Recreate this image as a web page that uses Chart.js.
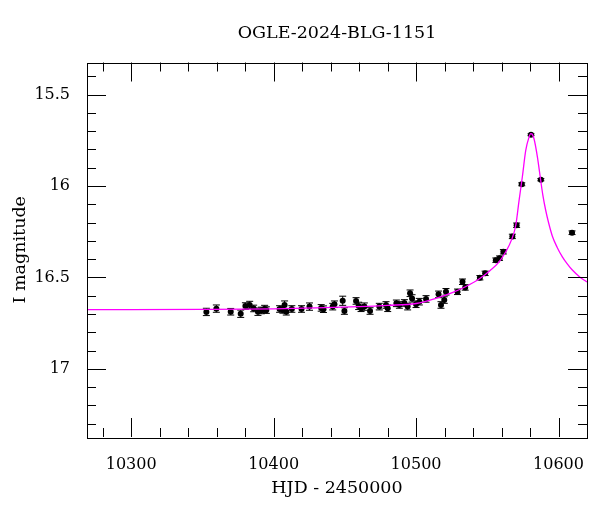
<!DOCTYPE html>
<html>
<head>
<meta charset="utf-8">
<script src="https://cdn.jsdelivr.net/npm/chart.js@4"></script>
<style>
  body { margin: 0; background: #fff; }
  canvas { display: block; }
</style>
</head>
<body>
<canvas id="lightCurve" width="600" height="512"></canvas>
<script>
// observations (HJD - 2450000, I mag, error)
const hjd = [
  10352.8, 10359.8, 10369.9, 10376.9, 10380.2, 10383.2, 10386.0, 10389.0, 10391.4, 10393.7,
  10394.9, 10404.2, 10406.5, 10407.7, 10408.9, 10412.8, 10419.6, 10425.2, 10433.4, 10435.0,
  10441.5, 10442.7, 10448.5, 10449.7, 10457.9, 10459.7, 10461.4, 10463.7, 10467.7, 10474.2,
  10478.9, 10480.1, 10486.2, 10488.3, 10491.8, 10494.1, 10495.8, 10497.2, 10500.0, 10502.3,
  10507.0, 10515.8, 10517.5, 10519.8, 10521.0, 10529.1, 10532.6, 10534.5, 10544.8, 10548.5,
  10556.0, 10558.6, 10561.3, 10567.6, 10570.6, 10574.2, 10580.7, 10587.6, 10609.5
];
const mag = [
  16.689, 16.671, 16.688, 16.699, 16.657, 16.651, 16.670, 16.688, 16.681, 16.673,
  16.679, 16.673, 16.678, 16.651, 16.688, 16.673, 16.673, 16.660, 16.667, 16.674,
  16.660, 16.647, 16.628, 16.684, 16.629, 16.656, 16.669, 16.660, 16.684, 16.660,
  16.651, 16.669, 16.642, 16.651, 16.640, 16.660, 16.587, 16.615, 16.647, 16.633,
  16.618, 16.593, 16.651, 16.624, 16.579, 16.579, 16.524, 16.555, 16.502, 16.478,
  16.406, 16.395, 16.360, 16.276, 16.215, 15.991, 15.720, 15.966, 16.256
];
const magErr = [
  0.020, 0.020, 0.018, 0.020, 0.018, 0.020, 0.018, 0.020, 0.018, 0.020,
  0.018, 0.018, 0.018, 0.022, 0.018, 0.018, 0.018, 0.020, 0.018, 0.018,
  0.018, 0.018, 0.025, 0.018, 0.018, 0.020, 0.018, 0.020, 0.018, 0.018,
  0.018, 0.018, 0.018, 0.018, 0.018, 0.018, 0.018, 0.020, 0.018, 0.018,
  0.018, 0.018, 0.018, 0.018, 0.018, 0.015, 0.015, 0.015, 0.012, 0.012,
  0.012, 0.012, 0.012, 0.012, 0.012, 0.008, 0.005, 0.006, 0.010
];

// model curve
const modelHjd = [
  10269, 10300, 10350, 10400, 10430, 10460, 10480, 10500, 10515, 10525,
  10535, 10545, 10552, 10558, 10563, 10567, 10570, 10572.3, 10574.6, 10577,
  10579.3, 10580.5, 10581.2, 10582.8, 10585.2, 10587.5, 10589, 10591, 10593, 10595.7,
  10599, 10602.7, 10606, 10609.7, 10614.5, 10620
];
const modelMag = [
  16.676, 16.676, 16.675, 16.672, 16.667, 16.660, 16.653, 16.643, 16.612, 16.585,
  16.550, 16.505, 16.462, 16.418, 16.360, 16.295, 16.215, 16.080, 15.951, 15.806,
  15.733, 15.714, 15.715, 15.742, 15.842, 15.970, 16.050, 16.133, 16.200, 16.275,
  16.335, 16.388, 16.425, 16.460, 16.495, 16.525
];

const xTicks = [10300, 10400, 10500, 10600];
const yTicks = [15.5, 16, 16.5, 17];

Chart.defaults.font.family = "DejaVu Serif";
Chart.defaults.color = "#000";

// error bars under the points
const errorBars = {
  id: "errorBars",
  beforeDatasetsDraw(chart) {
    const ctx = chart.ctx;
    const x = chart.scales.x;
    const y = chart.scales.y;
    ctx.save();
    ctx.strokeStyle = "#000";
    ctx.lineWidth = 1;
    for (let i = 0; i < hjd.length; i++) {
      const px = x.getPixelForValue(hjd[i]);
      const y1 = y.getPixelForValue(mag[i] - magErr[i]);
      const y2 = y.getPixelForValue(mag[i] + magErr[i]);
      ctx.beginPath();
      ctx.moveTo(px, y1);
      ctx.lineTo(px, y2);
      ctx.moveTo(px - 3.5, y1);
      ctx.lineTo(px + 3.5, y1);
      ctx.moveTo(px - 3.5, y2);
      ctx.lineTo(px + 3.5, y2);
      ctx.stroke();
    }
    ctx.restore();
  },
};

// box with inward ticks on all four sides
const frameTicks = {
  id: "frameTicks",
  afterDraw(chart) {
    const ctx = chart.ctx;
    const a = chart.chartArea;
    const x = chart.scales.x;
    const y = chart.scales.y;
    ctx.save();
    ctx.strokeStyle = "#000";
    ctx.lineWidth = 1;
    ctx.strokeRect(Math.round(a.left) + 0.5, Math.round(a.top) + 0.5,
      Math.round(a.right - a.left), Math.round(a.bottom - a.top));
    ctx.beginPath();
    for (let v = 10280; v <= 10620; v += 20) {
      const px = Math.round(x.getPixelForValue(v)) + 0.5;
      if (px <= a.left || px >= a.right) continue;
      const len = v % 100 === 0 ? 19 : 9;
      ctx.moveTo(px, a.bottom);
      ctx.lineTo(px, a.bottom - len);
      ctx.moveTo(px, a.top);
      ctx.lineTo(px, a.top + len);
    }
    for (let k = 154; k <= 173; k++) {
      const v = k / 10;
      const py = Math.round(y.getPixelForValue(v)) + 0.5;
      if (py <= a.top || py >= a.bottom) continue;
      const len = k % 5 === 0 ? 19 : 9;
      ctx.moveTo(a.left, py);
      ctx.lineTo(a.left + len, py);
      ctx.moveTo(a.right, py);
      ctx.lineTo(a.right - len, py);
    }
    ctx.stroke();
    ctx.restore();
  },
};

new Chart(document.getElementById("lightCurve"), {
  type: "scatter",
  data: {
    datasets: [
      {
        label: "model",
        data: modelHjd.map((t, i) => ({ x: t, y: modelMag[i] })),
        showLine: true,
        borderColor: "#ff00ff",
        borderWidth: 1.3,
        pointRadius: 0,
        cubicInterpolationMode: "monotone",
        order: 0,
      },
      {
        label: "OGLE",
        data: hjd.map((t, i) => ({ x: t, y: mag[i] })),
        backgroundColor: "#000",
        borderWidth: 0,
        pointRadius: 3,
        order: 1,
      },
    ],
  },
  options: {
    responsive: false,
    animation: false,
    layout: { padding: { left: 0, right: 13, top: 0, bottom: 0 } },
    plugins: {
      legend: { display: false },
      tooltip: { enabled: false },
      title: {
        display: true,
        text: "OGLE-2024-BLG-1151",
        fullSize: false,
        font: { size: 17.5, weight: "normal" },
        padding: { top: 23, bottom: 18.5 },
      },
    },
    scales: {
      x: {
        type: "linear",
        min: 10269,
        max: 10620,
        grid: { display: false },
        border: { display: false },
        afterBuildTicks: (scale) => {
          scale.ticks = xTicks.map((v) => ({ value: v }));
        },
        afterFit: (scale) => {
          scale.height = 75;
        },
        ticks: {
          padding: 10,
          maxRotation: 0,
          font: { size: 16 },
          callback: (v) => String(v),
        },
        title: {
          display: true,
          text: "HJD - 2450000",
          font: { size: 17.5 },
          padding: { top: 0, bottom: 13.5 },
        },
      },
      y: {
        type: "linear",
        reverse: true,
        min: 15.325,
        max: 17.373,
        grid: { display: false },
        border: { display: false },
        afterBuildTicks: (scale) => {
          scale.ticks = yTicks.map((v) => ({ value: v }));
        },
        afterFit: (scale) => {
          scale.width = 87;
        },
        ticks: {
          padding: 9,
          font: { size: 16 },
          callback: (v) => String(v),
        },
        title: {
          display: true,
          text: "I magnitude",
          font: { size: 17.5 },
          padding: { top: 9.5, bottom: 0 },
        },
      },
    },
  },
  plugins: [errorBars, frameTicks],
});
</script>
</body>
</html>
